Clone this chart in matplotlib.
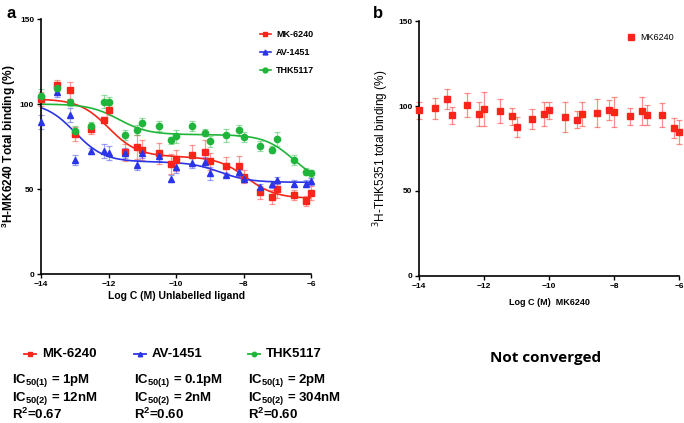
import numpy as np
import matplotlib
matplotlib.use("Agg")
import matplotlib.pyplot as plt
from matplotlib.lines import Line2D

plt.rcParams['font.family'] = ['Liberation Sans', 'DejaVu Sans']
plt.rcParams['mathtext.fontset'] = 'custom'
plt.rcParams['mathtext.rm'] = 'Liberation Sans:bold'
plt.rcParams['mathtext.bf'] = 'Liberation Sans:bold'
plt.rcParams['mathtext.it'] = 'Liberation Sans:bold'

# concentrations: 1, 3, 7 x 10^n M, from 1e-14 to 1e-6
log_c = [-14.0, -13.52, -13.15, -13.0, -12.52, -12.15, -12.0, -11.52, -11.15, -11.0,
         -10.52, -10.15, -10.0, -9.52, -9.15, -9.0, -8.52, -8.15, -8.0, -7.52,
         -7.15, -7.0, -6.52, -6.15, -6.0]

# panel a
mk_mean = [102.9, 111.2, 108.2, 82.4, 85.3, 90.6, 96.7, 71.8, 74.7, 72.9,
           71.0, 64.7, 66.9, 69.8, 71.6, 66.3, 63.7, 63.5, 57.3, 48.0,
           45.5, 50.0, 46.3, 43.1, 47.8]
mk_err = [4, 3, 5, 4, 3, 2, 3, 5, 7, 6, 6, 6, 6, 6, 7, 5, 5, 6, 4, 4, 4, 5, 3, 3, 4]

av_mean = [89.4, 106.9, 93.5, 66.9, 72.4, 72.4, 71.2, 71.0, 64.3, 71.0,
           69.6, 56.1, 62.7, 65.3, 65.7, 59.2, 58.4, 59.8, 56.1, 51.0,
           52.7, 55.1, 53.1, 53.1, 54.5]
av_err = [4, 3, 4, 3, 2, 4, 4, 3, 3, 3, 3, 2, 3, 3, 3, 4, 1, 2, 2, 2, 2, 2, 2, 2, 2]

thk_mean = [104.9, 109.4, 101.0, 84.1, 87.3, 101.4, 101.0, 81.8, 84.9, 88.6,
            87.3, 78.6, 81.0, 87.1, 83.1, 78.0, 81.6, 84.5, 80.6, 75.3,
            73.1, 79.4, 67.1, 60.2, 59.2]
thk_err = [4, 2, 2, 3, 2, 4, 3, 3, 3, 3, 3, 2, 4, 3, 2, 3, 4, 3, 3, 3, 2, 4, 3, 2, 2]

# two-site fit parameters: top, bottom, fraction of site 1, logIC50(1), logIC50(2)
mk_fit = [103.0, 44.5, 0.58, -12.0, -7.92]
av_fit = [101.0, 54.0, 0.745, -13.0, -8.7]
thk_fit = [100.0, 52.7, 0.38, -11.7, -6.52]

# panel b
b_mean = [97.6, 98.6, 104.1, 94.5, 100.4, 95.1, 98.4, 96.9, 93.9, 87.6,
          92.2, 95.3, 97.5, 93.5, 91.8, 95.3, 95.9, 97.5, 96.5, 93.9,
          97.1, 94.7, 94.9, 87.1, 84.9]
b_err = [5, 6, 6, 5, 7, 7, 10, 7, 5, 6, 6, 7, 5, 9, 5, 7, 8, 6, 9, 5, 8, 6, 7, 6, 7]

names = ['MK-6240', 'AV-1451', 'THK5117']
ic1 = ['1pM', '0.1pM', '2pM']
ic2 = ['12nM', '2nM', '304nM']
r2 = ['0.67', '0.60', '0.60']

RED = '#f8251a'
BLUE = '#2b35e8'
GREEN = '#1fb53a'


def two_site(x, top, bottom, frac, l1, l2):
    return bottom + (top - bottom) * (frac / (1 + 10 ** (x - l1)) + (1 - frac) / (1 + 10 ** (x - l2)))


def style_axis(ax):
    for s in ['top', 'right']:
        ax.spines[s].set_visible(False)
    for s in ['left', 'bottom']:
        ax.spines[s].set_linewidth(1.2)
    ax.set_xlim(-14, -6)
    ax.set_ylim(0, 150)
    ax.set_xticks([-14, -12, -10, -8, -6])
    ax.set_yticks([0, 50, 100, 150])
    ax.tick_params(direction='out', length=3, width=1.0, labelsize=6, pad=2)
    for lab in ax.get_xticklabels() + ax.get_yticklabels():
        lab.set_fontweight('bold')


fig = plt.figure(figsize=(6.84, 4.23), dpi=100)
ax1 = fig.add_axes([0.060, 0.352, 0.395, 0.603])
ax2 = fig.add_axes([0.613, 0.348, 0.380, 0.602])

xs = np.linspace(-14, -6, 300)
series = [(mk_mean, mk_err, mk_fit, RED, 's', 4.0),
          (av_mean, av_err, av_fit, BLUE, '^', 4.2),
          (thk_mean, thk_err, thk_fit, GREEN, 'o', 4.5)]
handles = []
for (mean, err, fit, col, mk, ms), name in zip(series, names):
    ax1.errorbar(log_c, mean, yerr=err, fmt='none', ecolor=col, alpha=0.45,
                 elinewidth=0.9, capsize=2.2, capthick=0.9, clip_on=False)
    ax1.plot(log_c, mean, mk, color=col, markersize=ms, linestyle='none', clip_on=False, zorder=3)
    ax1.plot(xs, two_site(xs, *fit), color=col, lw=1.2, zorder=2)
    handles.append(Line2D([], [], color=col, marker=mk, markersize=3.5, lw=1.2))

style_axis(ax1)
ax1.set_ylabel('$^{3}$H-MK6240 Total binding (%)', fontsize=8.6, fontweight='bold')
ax1.yaxis.set_label_coords(-0.085, 0.5)
ax1.set_xlabel('Log C (M) Unlabelled ligand', fontsize=7.5, fontweight='bold', labelpad=2)
ax1.legend(handles, names, loc='upper left', bbox_to_anchor=(0.78, 0.99), frameon=False,
           handlelength=1.2, handletextpad=0.6, labelspacing=1.0,
           prop={'size': 6.5, 'weight': 'bold'})

ax2.errorbar(log_c, b_mean, yerr=b_err, fmt='none', ecolor=RED, alpha=0.5,
             elinewidth=0.9, capsize=2.2, capthick=0.9, clip_on=False)
ax2.plot(log_c, b_mean, 's', color=RED, markersize=4.0, linestyle='none', clip_on=False,
         zorder=3, label='MK6240')
style_axis(ax2)
ax2.set_ylabel('$^{3}$H-THK5351 total binding (%)', fontsize=8.5, labelpad=5,
               fontweight='normal')
ax2.yaxis.label.set_math_fontfamily('dejavusans')
ax2.set_xlabel('Log C (M)  MK6240', fontsize=6.5, fontweight='bold', labelpad=6)
ax2.legend(loc='upper left', bbox_to_anchor=(0.77, 0.985), frameon=False,
           handlelength=0.8, handletextpad=0.6, prop={'size': 6.5})

fig.text(0.009, 0.967, 'a', fontsize=12, fontweight='bold', va='center')
fig.text(0.545, 0.967, 'b', fontsize=12, fontweight='bold', va='center')

# bottom annotations
cols_x = [12, 134, 248]
mark_x = [24, 134, 248]
markers = ['s', '^', 'o']
colors = [RED, BLUE, GREEN]
H = 423.0
for i in range(3):
    x0 = mark_x[i]
    y = 1 - 354 / H
    fig.add_artist(Line2D([x0 / 684, (x0 + 12) / 684], [y, y], color=colors[i], lw=1.3,
                          transform=fig.transFigure))
    fig.add_artist(Line2D([(x0 + 6) / 684], [y], color=colors[i], marker=markers[i],
                          markersize=3.2, transform=fig.transFigure))
    fig.text((x0 + 18) / 684, y, names[i], fontsize=9.5, fontweight='bold', va='center')
    fig.text(cols_x[i] / 684, 1 - 380 / H, 'IC$_{50(1)}$ = ' + ic1[i], fontsize=9.5,
             fontweight='bold', va='center')
    fig.text(cols_x[i] / 684, 1 - 398 / H, 'IC$_{50(2)}$ = ' + ic2[i], fontsize=9.5,
             fontweight='bold', va='center')
    fig.text(cols_x[i] / 684, 1 - 414 / H, 'R$^{2}$=' + r2[i], fontsize=9.5,
             fontweight='bold', va='center')

fig.text(490 / 684, 1 - 358 / H, 'Not converged', fontsize=11, fontweight='bold',
         va='center', family=['Open Sans', 'DejaVu Sans'])

fig.savefig('out.png', dpi=100)
